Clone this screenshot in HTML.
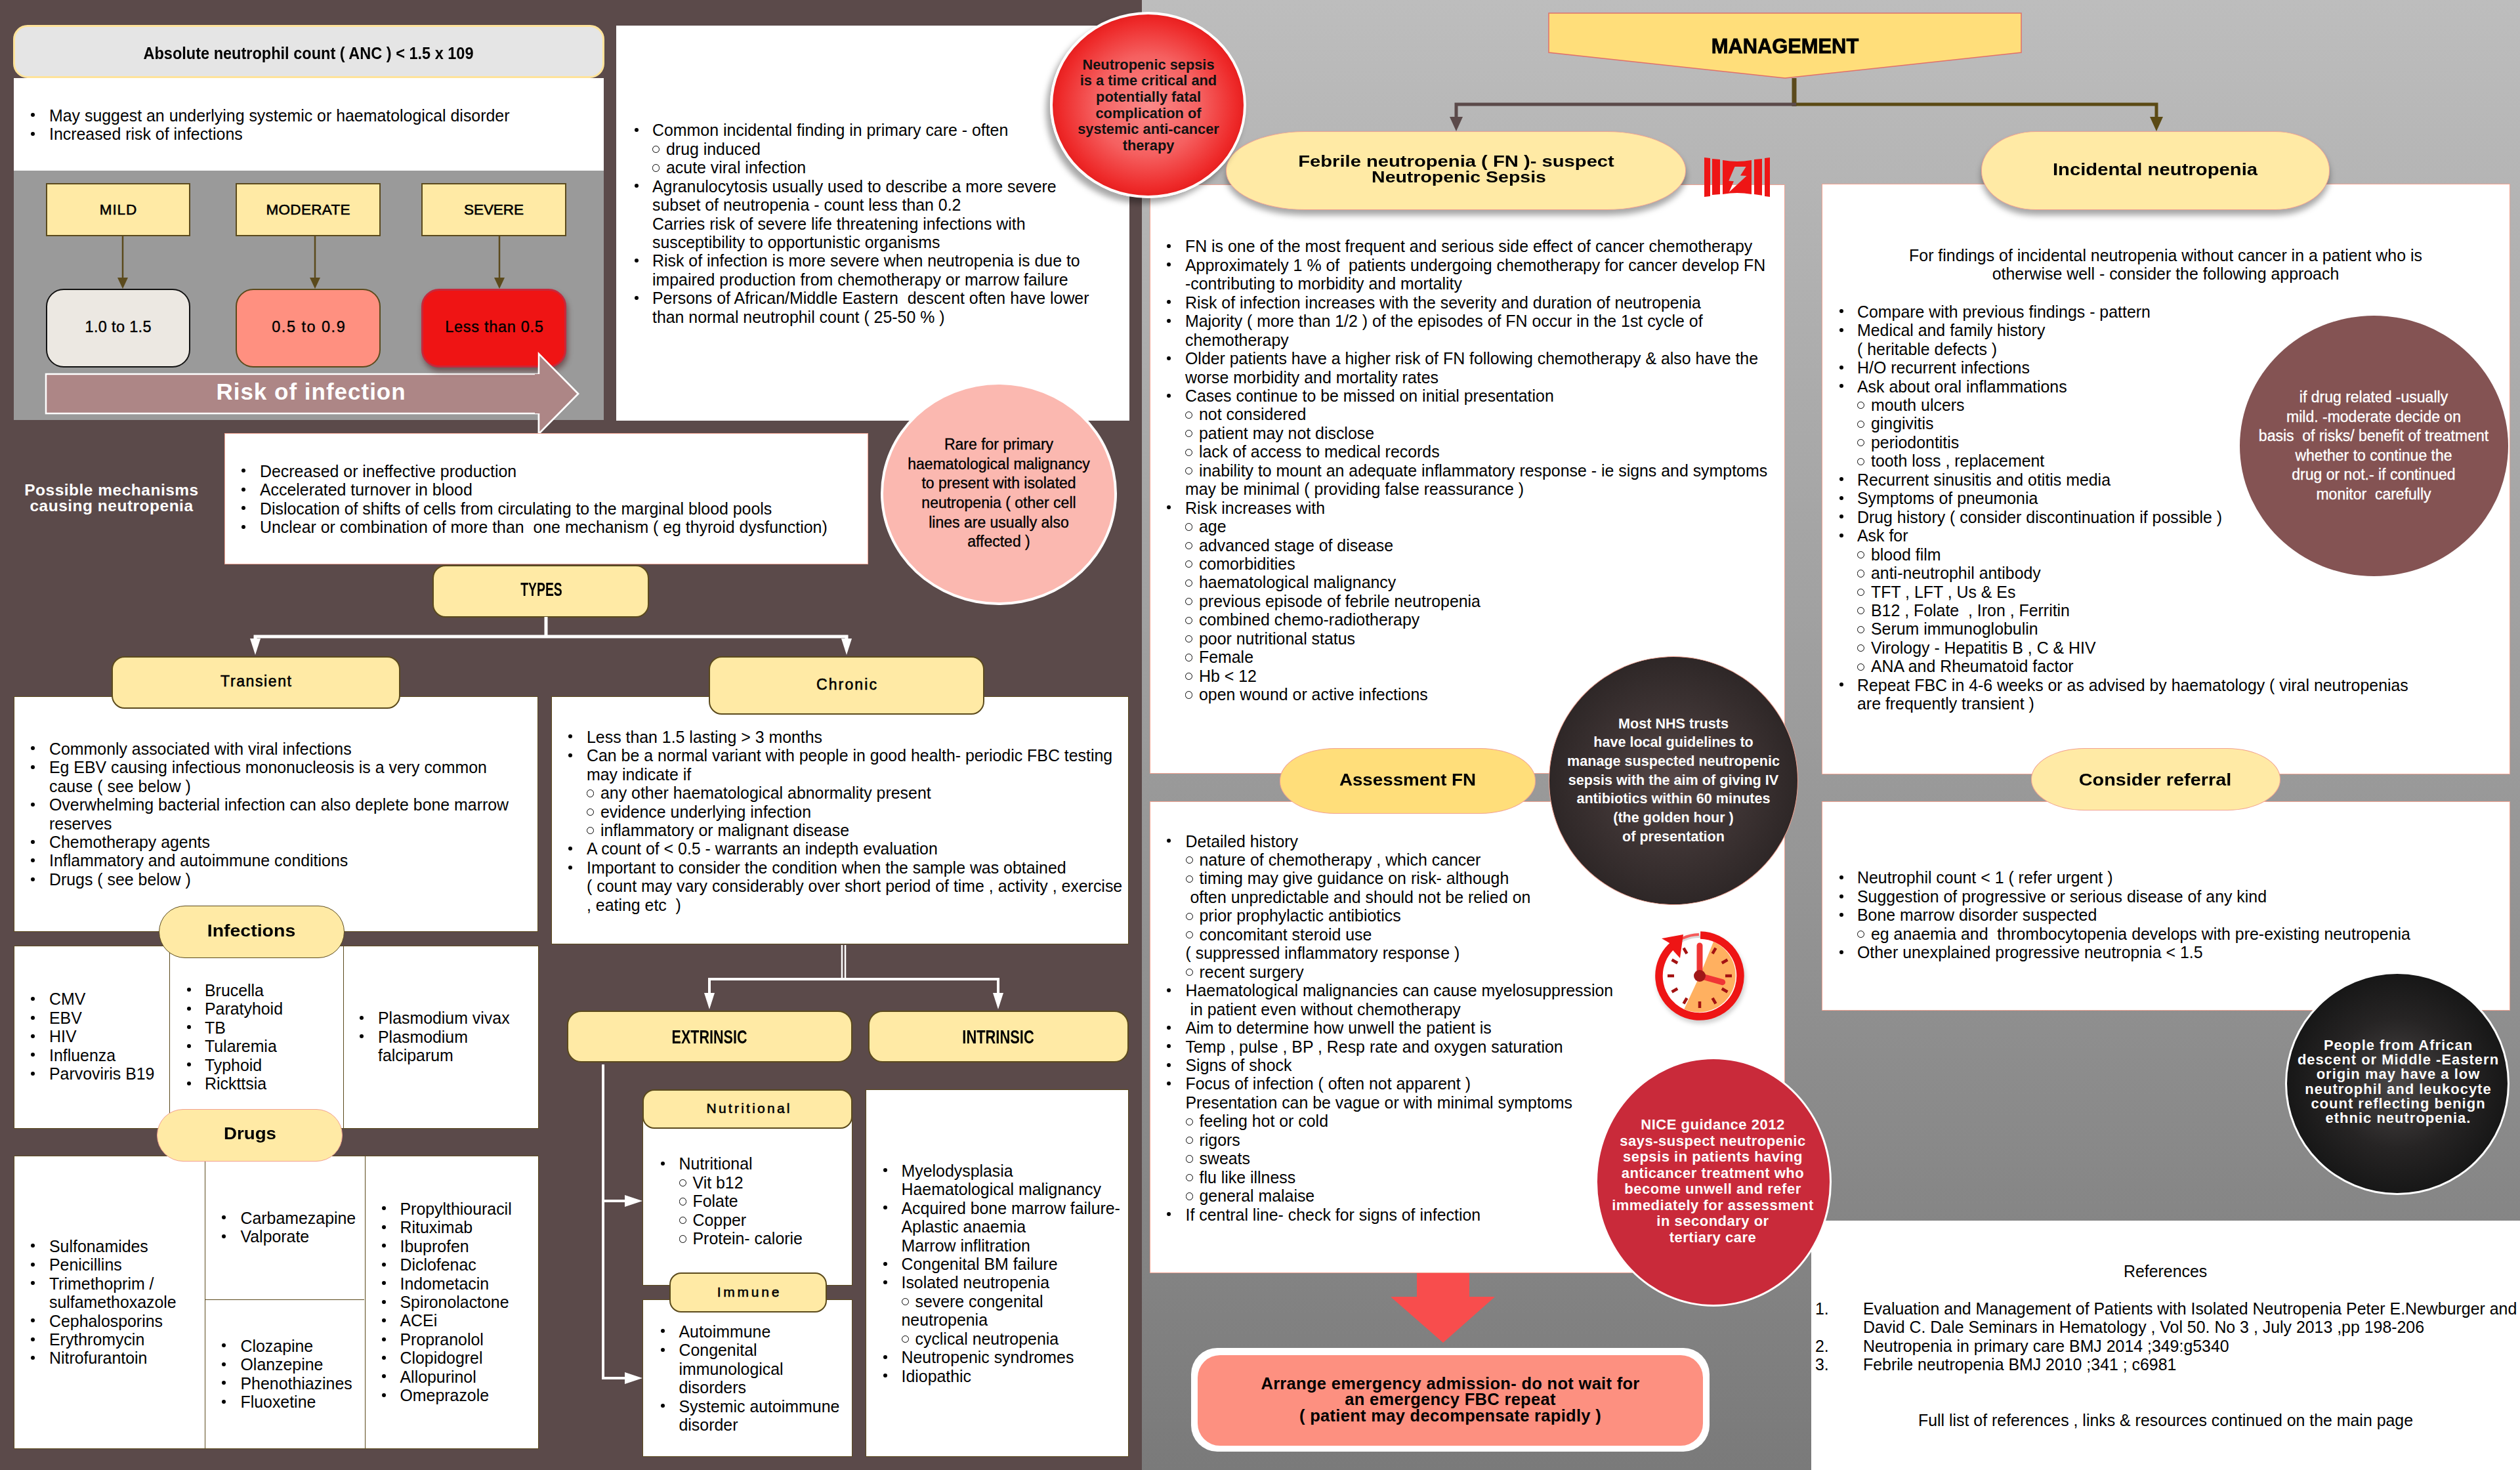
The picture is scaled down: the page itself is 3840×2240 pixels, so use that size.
<!DOCTYPE html>
<html><head><meta charset="utf-8"><style>
html,body{margin:0;padding:0}
body{width:3840px;height:2240px;position:relative;overflow:hidden;font-family:"Liberation Sans",sans-serif;color:#000}
.t{position:absolute;white-space:pre;font-family:"Liberation Sans",sans-serif}
</style></head><body>
<div style="position:absolute;left:0px;top:0px;width:1740px;height:2240px;background:#5b4a4a"></div>
<div style="position:absolute;left:1740px;top:0px;width:2100px;height:2240px;background:linear-gradient(#bdbdbd,#7a7a7a)"></div>
<div style="position:absolute;left:2760px;top:1860px;width:1080px;height:380px;background:#fff"></div>
<div style="position:absolute;left:20px;top:38px;width:895px;height:75px;background:#e5e5e5;border:3px solid #ffe39a;border-radius:22px"></div>
<div style="position:absolute;left:21px;top:119px;width:899px;height:141px;background:#fff"></div>
<div style="position:absolute;left:21px;top:260px;width:899px;height:380px;background:#9a9a9a"></div>
<div class="t" style="left:-530px;width:2000px;text-align:center;top:65.70px;line-height:30.599999999999998px;height:30.599999999999998px;font-size:25.5px;font-weight:bold;transform:scaleX(0.9226);">Absolute neutrophil count ( ANC ) &lt; 1.5 x 109</div>
<div style="position:absolute;left:47.00px;top:172.40px;width:6px;height:6px;border-radius:50%;background:#000"></div>
<div class="t" style="left:75px;top:161.78px;line-height:28.45px;height:28.45px;font-size:24.9px;">May suggest an underlying systemic or haematological disorder</div>
<div style="position:absolute;left:47.00px;top:200.85px;width:6px;height:6px;border-radius:50%;background:#000"></div>
<div class="t" style="left:75px;top:190.22px;line-height:28.45px;height:28.45px;font-size:24.9px;">Increased risk of infections</div>
<div style="position:absolute;left:70px;top:279px;width:216px;height:77px;background:#ffeaa5;border:2px solid #5b4a1c"></div>
<div class="t" style="left:-819.5256510416666px;width:2000px;text-align:center;top:305.50px;line-height:27.0px;height:27.0px;font-size:22.5px;font-weight:normal;letter-spacing:0.949px;-webkit-text-stroke:0.6px #000">MILD</div>
<div style="position:absolute;left:359px;top:279px;width:217px;height:77px;background:#ffeaa5;border:2px solid #5b4a1c"></div>
<div class="t" style="left:-530.3455915178572px;width:2000px;text-align:center;top:305.50px;line-height:27.0px;height:27.0px;font-size:22.5px;font-weight:normal;letter-spacing:0.309px;-webkit-text-stroke:0.6px #000">MODERATE</div>
<div style="position:absolute;left:642px;top:279px;width:217px;height:77px;background:#ffeaa5;border:2px solid #5b4a1c"></div>
<div class="t" style="left:-247.5090234375px;width:2000px;text-align:center;top:305.50px;line-height:27.0px;height:27.0px;font-size:22.5px;font-weight:normal;letter-spacing:-0.018px;-webkit-text-stroke:0.6px #000">SEVERE</div>
<svg style="position:absolute;left:0;top:0" width="1740" height="2240"><line x1="187" y1="360" x2="187" y2="426" stroke="#5b4a1c" stroke-width="2.5"/><polygon points="179,423 195,423 187,440" fill="#5b4a1c"/><line x1="480" y1="360" x2="480" y2="426" stroke="#5b4a1c" stroke-width="2.5"/><polygon points="472,423 488,423 480,440" fill="#5b4a1c"/><line x1="761" y1="360" x2="761" y2="426" stroke="#5b4a1c" stroke-width="2.5"/><polygon points="753,423 769,423 761,440" fill="#5b4a1c"/><polygon points="70,570 821,570 821,539 881,600 821,661 821,630 70,630" fill="#ad8686" stroke="#fff" stroke-width="2.5"/></svg>
<div style="position:absolute;left:70px;top:440px;width:216px;height:116px;background:#ece8e2;border:2px solid #111;border-radius:27px"></div>
<div style="position:absolute;left:359px;top:440px;width:217px;height:116px;background:#ff9080;border:2px solid #5b4a1c;border-radius:27px"></div>
<div style="position:absolute;left:642px;top:440px;width:215px;height:114px;background:#ef1414;border:3px solid #c8283a;border-radius:27px;box-shadow:2px 6px 8px rgba(60,0,0,.45)"></div>
<div class="t" style="left:-819.8324435763889px;width:2000px;text-align:center;top:483.90px;line-height:28.2px;height:28.2px;font-size:23.5px;font-weight:normal;letter-spacing:0.335px;-webkit-text-stroke:0.4px #000">1.0 to 1.5</div>
<div class="t" style="left:-529.2546657986111px;width:2000px;text-align:center;top:483.90px;line-height:28.2px;height:28.2px;font-size:23.5px;font-weight:normal;letter-spacing:1.491px;-webkit-text-stroke:0.4px #000">0.5 to 0.9</div>
<div class="t" style="left:-246.649658203125px;width:2000px;text-align:center;top:483.90px;line-height:28.2px;height:28.2px;font-size:23.5px;font-weight:normal;letter-spacing:0.701px;-webkit-text-stroke:0.4px #000">Less than 0.5</div>
<svg style="position:absolute;left:0;top:0" width="1000" height="700"><polygon points="821,539 881,600 821,661 821,630 815,630 815,570 821,570" fill="#ad8686" stroke="none"/><polyline points="821,570 821,539 881,600 821,661 821,630" fill="none" stroke="#fff" stroke-width="2.5"/></svg>
<div class="t" style="left:-526px;width:2000px;text-align:center;top:582.77px;line-height:28.45px;height:28.45px;font-size:35px;color:#fff;letter-spacing:1px"><b>Risk of infection</b></div>
<div style="position:absolute;left:939px;top:39px;width:782px;height:602px;background:#fff"></div>
<div style="position:absolute;left:967.00px;top:194.90px;width:6px;height:6px;border-radius:50%;background:#000"></div>
<div class="t" style="left:994px;top:184.28px;line-height:28.45px;height:28.45px;font-size:24.9px;">Common incidental finding in primary care - often</div>
<div style="position:absolute;left:994.00px;top:221.90px;width:9.3px;height:9.3px;border-radius:50%;border:1.6px solid #000"></div>
<div class="t" style="left:1015px;top:212.72px;line-height:28.45px;height:28.45px;font-size:24.9px;">drug induced</div>
<div style="position:absolute;left:994.00px;top:250.35px;width:9.3px;height:9.3px;border-radius:50%;border:1.6px solid #000"></div>
<div class="t" style="left:1015px;top:241.17px;line-height:28.45px;height:28.45px;font-size:24.9px;">acute viral infection</div>
<div style="position:absolute;left:967.00px;top:280.25px;width:6px;height:6px;border-radius:50%;background:#000"></div>
<div class="t" style="left:994px;top:269.62px;line-height:28.45px;height:28.45px;font-size:24.9px;">Agranulocytosis usually used to describe a more severe</div>
<div class="t" style="left:994px;top:298.07px;line-height:28.45px;height:28.45px;font-size:24.9px;">subset of neutropenia - count less than 0.2</div>
<div class="t" style="left:994px;top:326.52px;line-height:28.45px;height:28.45px;font-size:24.9px;">Carries risk of severe life threatening infections with</div>
<div class="t" style="left:994px;top:354.97px;line-height:28.45px;height:28.45px;font-size:24.9px;">susceptibility to opportunistic organisms</div>
<div style="position:absolute;left:967.00px;top:394.05px;width:6px;height:6px;border-radius:50%;background:#000"></div>
<div class="t" style="left:994px;top:383.42px;line-height:28.45px;height:28.45px;font-size:24.9px;">Risk of infection is more severe when neutropenia is due to</div>
<div class="t" style="left:994px;top:411.87px;line-height:28.45px;height:28.45px;font-size:24.9px;">impaired production from chemotherapy or marrow failure</div>
<div style="position:absolute;left:967.00px;top:450.95px;width:6px;height:6px;border-radius:50%;background:#000"></div>
<div class="t" style="left:994px;top:440.32px;line-height:28.45px;height:28.45px;font-size:24.9px;">Persons of African/Middle Eastern  descent often have lower</div>
<div class="t" style="left:994px;top:468.77px;line-height:28.45px;height:28.45px;font-size:24.9px;">than normal neutrophil count ( 25-50 % )</div>
<div style="position:absolute;left:342px;top:660px;width:979px;height:198px;background:#fff;border:1px solid #f2a291"></div>
<div class="t" style="left:-830px;width:2000px;text-align:center;top:734.75px;line-height:24.5px;height:24.5px;font-size:24.5px;color:#fff;font-weight:bold;letter-spacing:0.5px">Possible mechanisms</div>
<div class="t" style="left:-830px;width:2000px;text-align:center;top:759.25px;line-height:24.5px;height:24.5px;font-size:24.5px;color:#fff;font-weight:bold;letter-spacing:0.5px">causing neutropenia</div>
<div style="position:absolute;left:368.00px;top:714.40px;width:6px;height:6px;border-radius:50%;background:#000"></div>
<div class="t" style="left:396px;top:703.77px;line-height:28.45px;height:28.45px;font-size:24.9px;">Decreased or ineffective production</div>
<div style="position:absolute;left:368.00px;top:742.85px;width:6px;height:6px;border-radius:50%;background:#000"></div>
<div class="t" style="left:396px;top:732.23px;line-height:28.45px;height:28.45px;font-size:24.9px;">Accelerated turnover in blood</div>
<div style="position:absolute;left:368.00px;top:771.30px;width:6px;height:6px;border-radius:50%;background:#000"></div>
<div class="t" style="left:396px;top:760.68px;line-height:28.45px;height:28.45px;font-size:24.9px;">Dislocation of shifts of cells from circulating to the marginal blood pools</div>
<div style="position:absolute;left:368.00px;top:799.75px;width:6px;height:6px;border-radius:50%;background:#000"></div>
<div class="t" style="left:396px;top:789.13px;line-height:28.45px;height:28.45px;font-size:24.9px;">Unclear or combination of more than  one mechanism ( eg thyroid dysfunction)</div>
<div style="position:absolute;left:1342px;top:582px;width:352px;height:332px;border-radius:50%;background:#fbb8b0;border:4px solid #fff"></div>
<div class="t" style="left:522px;width:2000px;text-align:center;top:663.20px;line-height:29.6px;height:29.6px;font-size:23px;-webkit-text-stroke:0.35px #000">Rare for primary</div>
<div class="t" style="left:522px;width:2000px;text-align:center;top:692.80px;line-height:29.6px;height:29.6px;font-size:23px;-webkit-text-stroke:0.35px #000">haematological malignancy</div>
<div class="t" style="left:522px;width:2000px;text-align:center;top:722.40px;line-height:29.6px;height:29.6px;font-size:23px;-webkit-text-stroke:0.35px #000">to present with isolated</div>
<div class="t" style="left:522px;width:2000px;text-align:center;top:752.00px;line-height:29.6px;height:29.6px;font-size:23px;-webkit-text-stroke:0.35px #000">neutropenia ( other cell</div>
<div class="t" style="left:522px;width:2000px;text-align:center;top:781.60px;line-height:29.6px;height:29.6px;font-size:23px;-webkit-text-stroke:0.35px #000">lines are usually also</div>
<div class="t" style="left:522px;width:2000px;text-align:center;top:811.20px;line-height:29.6px;height:29.6px;font-size:23px;-webkit-text-stroke:0.35px #000">affected )</div>
<div style="position:absolute;left:659px;top:861px;width:326px;height:76px;background:#ffeaa5;border:2px solid #5b4a1c;border-radius:20px"></div>
<div class="t" style="left:-175px;width:2000px;text-align:center;top:880.00px;line-height:36.0px;height:36.0px;font-size:30px;font-weight:bold;transform:scaleX(0.6466);">TYPES</div>
<svg style="position:absolute;left:0;top:0" width="1740" height="2240"><line x1="832" y1="940" x2="832" y2="972" stroke="#fff" stroke-width="5"/><polyline points="389,988 389,970 1290,970 1290,988" fill="none" stroke="#fff" stroke-width="5"/><polygon points="381,973 397,973 389,998" fill="#fff"/><polygon points="1282,973 1298,973 1290,998" fill="#fff"/></svg>
<div style="position:absolute;left:21px;top:1061px;width:797px;height:357px;background:#fff;border:1px solid #5b4a1c"></div>
<div style="position:absolute;left:170px;top:1000px;width:436px;height:76px;background:#ffeaa5;border:2px solid #5b4a1c;border-radius:20px"></div>
<div class="t" style="left:-609.200947265625px;width:2000px;text-align:center;top:1025.20px;line-height:27.599999999999998px;height:27.599999999999998px;font-size:23px;font-weight:normal;letter-spacing:1.598px;-webkit-text-stroke:0.6px #000">Transient</div>
<div style="position:absolute;left:47.00px;top:1137.40px;width:6px;height:6px;border-radius:50%;background:#000"></div>
<div class="t" style="left:75px;top:1126.78px;line-height:28.45px;height:28.45px;font-size:24.9px;">Commonly associated with viral infections</div>
<div style="position:absolute;left:47.00px;top:1165.85px;width:6px;height:6px;border-radius:50%;background:#000"></div>
<div class="t" style="left:75px;top:1155.23px;line-height:28.45px;height:28.45px;font-size:24.9px;">Eg EBV causing infectious mononucleosis is a very common</div>
<div class="t" style="left:75px;top:1183.68px;line-height:28.45px;height:28.45px;font-size:24.9px;">cause ( see below )</div>
<div style="position:absolute;left:47.00px;top:1222.75px;width:6px;height:6px;border-radius:50%;background:#000"></div>
<div class="t" style="left:75px;top:1212.13px;line-height:28.45px;height:28.45px;font-size:24.9px;">Overwhelming bacterial infection can also deplete bone marrow</div>
<div class="t" style="left:75px;top:1240.58px;line-height:28.45px;height:28.45px;font-size:24.9px;">reserves</div>
<div style="position:absolute;left:47.00px;top:1279.65px;width:6px;height:6px;border-radius:50%;background:#000"></div>
<div class="t" style="left:75px;top:1269.03px;line-height:28.45px;height:28.45px;font-size:24.9px;">Chemotherapy agents</div>
<div style="position:absolute;left:47.00px;top:1308.10px;width:6px;height:6px;border-radius:50%;background:#000"></div>
<div class="t" style="left:75px;top:1297.48px;line-height:28.45px;height:28.45px;font-size:24.9px;">Inflammatory and autoimmune conditions</div>
<div style="position:absolute;left:47.00px;top:1336.55px;width:6px;height:6px;border-radius:50%;background:#000"></div>
<div class="t" style="left:75px;top:1325.93px;line-height:28.45px;height:28.45px;font-size:24.9px;">Drugs ( see below )</div>
<div style="position:absolute;left:840px;top:1061px;width:878px;height:376px;background:#fff;border:1px solid #5b4a1c"></div>
<div style="position:absolute;left:1080px;top:1000px;width:416px;height:85px;background:#ffeaa5;border:2px solid #5b4a1c;border-radius:20px"></div>
<div class="t" style="left:291.0792187500001px;width:2000px;text-align:center;top:1030.20px;line-height:27.599999999999998px;height:27.599999999999998px;font-size:23px;font-weight:normal;letter-spacing:2.158px;-webkit-text-stroke:0.6px #000">Chronic</div>
<div style="position:absolute;left:866.00px;top:1119.40px;width:6px;height:6px;border-radius:50%;background:#000"></div>
<div class="t" style="left:894px;top:1108.78px;line-height:28.45px;height:28.45px;font-size:24.9px;">Less than 1.5 lasting &gt; 3 months</div>
<div style="position:absolute;left:866.00px;top:1147.85px;width:6px;height:6px;border-radius:50%;background:#000"></div>
<div class="t" style="left:894px;top:1137.23px;line-height:28.45px;height:28.45px;font-size:24.9px;">Can be a normal variant with people in good health- periodic FBC testing</div>
<div class="t" style="left:894px;top:1165.68px;line-height:28.45px;height:28.45px;font-size:24.9px;">may indicate if</div>
<div style="position:absolute;left:894.00px;top:1203.30px;width:9.3px;height:9.3px;border-radius:50%;border:1.6px solid #000"></div>
<div class="t" style="left:915px;top:1194.13px;line-height:28.45px;height:28.45px;font-size:24.9px;">any other haematological abnormality present</div>
<div style="position:absolute;left:894.00px;top:1231.75px;width:9.3px;height:9.3px;border-radius:50%;border:1.6px solid #000"></div>
<div class="t" style="left:915px;top:1222.58px;line-height:28.45px;height:28.45px;font-size:24.9px;">evidence underlying infection</div>
<div style="position:absolute;left:894.00px;top:1260.20px;width:9.3px;height:9.3px;border-radius:50%;border:1.6px solid #000"></div>
<div class="t" style="left:915px;top:1251.03px;line-height:28.45px;height:28.45px;font-size:24.9px;">inflammatory or malignant disease</div>
<div style="position:absolute;left:866.00px;top:1290.10px;width:6px;height:6px;border-radius:50%;background:#000"></div>
<div class="t" style="left:894px;top:1279.48px;line-height:28.45px;height:28.45px;font-size:24.9px;">A count of &lt; 0.5 - warrants an indepth evaluation</div>
<div style="position:absolute;left:866.00px;top:1318.55px;width:6px;height:6px;border-radius:50%;background:#000"></div>
<div class="t" style="left:894px;top:1307.93px;line-height:28.45px;height:28.45px;font-size:24.9px;">Important to consider the condition when the sample was obtained</div>
<div class="t" style="left:894px;top:1336.38px;line-height:28.45px;height:28.45px;font-size:24.9px;">( count may vary considerably over short period of time , activity , exercise</div>
<div class="t" style="left:894px;top:1364.83px;line-height:28.45px;height:28.45px;font-size:24.9px;">, eating etc  )</div>
<div style="position:absolute;left:21px;top:1441px;width:798px;height:277px;background:#fff;border:1px solid #5b4a1c"></div>
<div style="position:absolute;left:258px;top:1441px;width:264px;height:279px;border-left:1px solid #5b4a1c;border-right:1px solid #5b4a1c"></div>
<div style="position:absolute;left:242px;top:1380px;width:281px;height:78px;border-radius:40px;background:#ffeaa5;border:1px solid #5b4a1c"></div>
<div class="t" style="left:-617px;width:2000px;text-align:center;top:1402.70px;line-height:30.599999999999998px;height:30.599999999999998px;font-size:25.5px;font-weight:bold;transform:scaleX(1.1170);">Infections</div>
<div style="position:absolute;left:46.50px;top:1519.10px;width:6px;height:6px;border-radius:50%;background:#000"></div>
<div class="t" style="left:75px;top:1508.48px;line-height:28.45px;height:28.45px;font-size:24.9px;">CMV</div>
<div style="position:absolute;left:46.50px;top:1547.55px;width:6px;height:6px;border-radius:50%;background:#000"></div>
<div class="t" style="left:75px;top:1536.93px;line-height:28.45px;height:28.45px;font-size:24.9px;">EBV</div>
<div style="position:absolute;left:46.50px;top:1576.00px;width:6px;height:6px;border-radius:50%;background:#000"></div>
<div class="t" style="left:75px;top:1565.38px;line-height:28.45px;height:28.45px;font-size:24.9px;">HIV</div>
<div style="position:absolute;left:46.50px;top:1604.45px;width:6px;height:6px;border-radius:50%;background:#000"></div>
<div class="t" style="left:75px;top:1593.83px;line-height:28.45px;height:28.45px;font-size:24.9px;">Influenza</div>
<div style="position:absolute;left:46.50px;top:1632.90px;width:6px;height:6px;border-radius:50%;background:#000"></div>
<div class="t" style="left:75px;top:1622.28px;line-height:28.45px;height:28.45px;font-size:24.9px;">Parvoviris B19</div>
<div style="position:absolute;left:285.00px;top:1505.40px;width:6px;height:6px;border-radius:50%;background:#000"></div>
<div class="t" style="left:312px;top:1494.78px;line-height:28.45px;height:28.45px;font-size:24.9px;">Brucella</div>
<div style="position:absolute;left:285.00px;top:1533.85px;width:6px;height:6px;border-radius:50%;background:#000"></div>
<div class="t" style="left:312px;top:1523.23px;line-height:28.45px;height:28.45px;font-size:24.9px;">Paratyhoid</div>
<div style="position:absolute;left:285.00px;top:1562.30px;width:6px;height:6px;border-radius:50%;background:#000"></div>
<div class="t" style="left:312px;top:1551.68px;line-height:28.45px;height:28.45px;font-size:24.9px;">TB</div>
<div style="position:absolute;left:285.00px;top:1590.75px;width:6px;height:6px;border-radius:50%;background:#000"></div>
<div class="t" style="left:312px;top:1580.13px;line-height:28.45px;height:28.45px;font-size:24.9px;">Tularemia</div>
<div style="position:absolute;left:285.00px;top:1619.20px;width:6px;height:6px;border-radius:50%;background:#000"></div>
<div class="t" style="left:312px;top:1608.58px;line-height:28.45px;height:28.45px;font-size:24.9px;">Typhoid</div>
<div style="position:absolute;left:285.00px;top:1647.65px;width:6px;height:6px;border-radius:50%;background:#000"></div>
<div class="t" style="left:312px;top:1637.03px;line-height:28.45px;height:28.45px;font-size:24.9px;">Rickttsia</div>
<div style="position:absolute;left:548.00px;top:1548.00px;width:6px;height:6px;border-radius:50%;background:#000"></div>
<div class="t" style="left:576px;top:1537.38px;line-height:28.45px;height:28.45px;font-size:24.9px;">Plasmodium vivax</div>
<div style="position:absolute;left:548.00px;top:1576.45px;width:6px;height:6px;border-radius:50%;background:#000"></div>
<div class="t" style="left:576px;top:1565.83px;line-height:28.45px;height:28.45px;font-size:24.9px;">Plasmodium</div>
<div class="t" style="left:576px;top:1594.28px;line-height:28.45px;height:28.45px;font-size:24.9px;">falciparum</div>
<div style="position:absolute;left:21px;top:1761px;width:798px;height:445px;background:#fff;border:1px solid #5b4a1c"></div>
<div style="position:absolute;left:312px;top:1761px;width:243px;height:447px;border-left:1px solid #5b4a1c;border-right:1px solid #5b4a1c"></div>
<div style="position:absolute;left:312px;top:1980px;width:243px;height:0px;border-top:1px solid #5b4a1c"></div>
<div style="position:absolute;left:239px;top:1690px;width:281px;height:78px;border-radius:40px;background:#ffeaa5;border:1px solid #f2a291"></div>
<div class="t" style="left:-619.5px;width:2000px;text-align:center;top:1712.40px;line-height:31.2px;height:31.2px;font-size:26px;font-weight:bold;transform:scaleX(1.0650);">Drugs</div>
<div style="position:absolute;left:46.50px;top:1895.40px;width:6px;height:6px;border-radius:50%;background:#000"></div>
<div class="t" style="left:75px;top:1884.78px;line-height:28.45px;height:28.45px;font-size:24.9px;">Sulfonamides</div>
<div style="position:absolute;left:46.50px;top:1923.85px;width:6px;height:6px;border-radius:50%;background:#000"></div>
<div class="t" style="left:75px;top:1913.23px;line-height:28.45px;height:28.45px;font-size:24.9px;">Penicillins</div>
<div style="position:absolute;left:46.50px;top:1952.30px;width:6px;height:6px;border-radius:50%;background:#000"></div>
<div class="t" style="left:75px;top:1941.68px;line-height:28.45px;height:28.45px;font-size:24.9px;">Trimethoprim /</div>
<div class="t" style="left:75px;top:1970.13px;line-height:28.45px;height:28.45px;font-size:24.9px;">sulfamethoxazole</div>
<div style="position:absolute;left:46.50px;top:2009.20px;width:6px;height:6px;border-radius:50%;background:#000"></div>
<div class="t" style="left:75px;top:1998.58px;line-height:28.45px;height:28.45px;font-size:24.9px;">Cephalosporins</div>
<div style="position:absolute;left:46.50px;top:2037.65px;width:6px;height:6px;border-radius:50%;background:#000"></div>
<div class="t" style="left:75px;top:2027.03px;line-height:28.45px;height:28.45px;font-size:24.9px;">Erythromycin</div>
<div style="position:absolute;left:46.50px;top:2066.10px;width:6px;height:6px;border-radius:50%;background:#000"></div>
<div class="t" style="left:75px;top:2055.48px;line-height:28.45px;height:28.45px;font-size:24.9px;">Nitrofurantoin</div>
<div style="position:absolute;left:338.00px;top:1852.40px;width:6px;height:6px;border-radius:50%;background:#000"></div>
<div class="t" style="left:366.5px;top:1841.78px;line-height:28.45px;height:28.45px;font-size:24.9px;">Carbamezapine</div>
<div style="position:absolute;left:338.00px;top:1880.85px;width:6px;height:6px;border-radius:50%;background:#000"></div>
<div class="t" style="left:366.5px;top:1870.23px;line-height:28.45px;height:28.45px;font-size:24.9px;">Valporate</div>
<div style="position:absolute;left:338.00px;top:2047.40px;width:6px;height:6px;border-radius:50%;background:#000"></div>
<div class="t" style="left:366.5px;top:2036.78px;line-height:28.45px;height:28.45px;font-size:24.9px;">Clozapine</div>
<div style="position:absolute;left:338.00px;top:2075.85px;width:6px;height:6px;border-radius:50%;background:#000"></div>
<div class="t" style="left:366.5px;top:2065.22px;line-height:28.45px;height:28.45px;font-size:24.9px;">Olanzepine</div>
<div style="position:absolute;left:338.00px;top:2104.30px;width:6px;height:6px;border-radius:50%;background:#000"></div>
<div class="t" style="left:366.5px;top:2093.67px;line-height:28.45px;height:28.45px;font-size:24.9px;">Phenothiazines</div>
<div style="position:absolute;left:338.00px;top:2132.75px;width:6px;height:6px;border-radius:50%;background:#000"></div>
<div class="t" style="left:366.5px;top:2122.12px;line-height:28.45px;height:28.45px;font-size:24.9px;">Fluoxetine</div>
<div style="position:absolute;left:582.00px;top:1838.40px;width:6px;height:6px;border-radius:50%;background:#000"></div>
<div class="t" style="left:609.5px;top:1827.78px;line-height:28.45px;height:28.45px;font-size:24.9px;">Propylthiouracil</div>
<div style="position:absolute;left:582.00px;top:1866.85px;width:6px;height:6px;border-radius:50%;background:#000"></div>
<div class="t" style="left:609.5px;top:1856.23px;line-height:28.45px;height:28.45px;font-size:24.9px;">Rituximab</div>
<div style="position:absolute;left:582.00px;top:1895.30px;width:6px;height:6px;border-radius:50%;background:#000"></div>
<div class="t" style="left:609.5px;top:1884.68px;line-height:28.45px;height:28.45px;font-size:24.9px;">Ibuprofen</div>
<div style="position:absolute;left:582.00px;top:1923.75px;width:6px;height:6px;border-radius:50%;background:#000"></div>
<div class="t" style="left:609.5px;top:1913.13px;line-height:28.45px;height:28.45px;font-size:24.9px;">Diclofenac</div>
<div style="position:absolute;left:582.00px;top:1952.20px;width:6px;height:6px;border-radius:50%;background:#000"></div>
<div class="t" style="left:609.5px;top:1941.58px;line-height:28.45px;height:28.45px;font-size:24.9px;">Indometacin</div>
<div style="position:absolute;left:582.00px;top:1980.65px;width:6px;height:6px;border-radius:50%;background:#000"></div>
<div class="t" style="left:609.5px;top:1970.03px;line-height:28.45px;height:28.45px;font-size:24.9px;">Spironolactone</div>
<div style="position:absolute;left:582.00px;top:2009.10px;width:6px;height:6px;border-radius:50%;background:#000"></div>
<div class="t" style="left:609.5px;top:1998.48px;line-height:28.45px;height:28.45px;font-size:24.9px;">ACEi</div>
<div style="position:absolute;left:582.00px;top:2037.55px;width:6px;height:6px;border-radius:50%;background:#000"></div>
<div class="t" style="left:609.5px;top:2026.93px;line-height:28.45px;height:28.45px;font-size:24.9px;">Propranolol</div>
<div style="position:absolute;left:582.00px;top:2066.00px;width:6px;height:6px;border-radius:50%;background:#000"></div>
<div class="t" style="left:609.5px;top:2055.38px;line-height:28.45px;height:28.45px;font-size:24.9px;">Clopidogrel</div>
<div style="position:absolute;left:582.00px;top:2094.45px;width:6px;height:6px;border-radius:50%;background:#000"></div>
<div class="t" style="left:609.5px;top:2083.83px;line-height:28.45px;height:28.45px;font-size:24.9px;">Allopurinol</div>
<div style="position:absolute;left:582.00px;top:2122.90px;width:6px;height:6px;border-radius:50%;background:#000"></div>
<div class="t" style="left:609.5px;top:2112.28px;line-height:28.45px;height:28.45px;font-size:24.9px;">Omeprazole</div>
<svg style="position:absolute;left:0;top:0" width="1740" height="2240"><line x1="1283" y1="1440" x2="1283" y2="1494" stroke="#fff" stroke-width="2.5"/><line x1="1288" y1="1440" x2="1288" y2="1494" stroke="#fff" stroke-width="2.5"/><polyline points="1081,1525 1081,1492 1521,1492 1521,1525" fill="none" stroke="#fff" stroke-width="4"/><polygon points="1073,1513 1089,1513 1081,1538" fill="#fff"/><polygon points="1513,1513 1529,1513 1521,1538" fill="#fff"/><polyline points="919,1622 919,2100 960,2100" fill="none" stroke="#fff" stroke-width="4"/><line x1="919" y1="1830" x2="960" y2="1830" stroke="#fff" stroke-width="4"/><polygon points="952,1821 952,1839 979,1830" fill="#fff"/><polygon points="952,2091 952,2109 979,2100" fill="#fff"/></svg>
<div style="position:absolute;left:864px;top:1540px;width:431px;height:75px;background:#ffeaa5;border:2px solid #5b4a1c;border-radius:22px"></div>
<div style="position:absolute;left:1323px;top:1540px;width:393px;height:75px;background:#ffeaa5;border:2px solid #5b4a1c;border-radius:22px"></div>
<div class="t" style="left:81px;width:2000px;text-align:center;top:1562.42px;line-height:35.16px;height:35.16px;font-size:29.3px;font-weight:bold;transform:scaleX(0.7358);">EXTRINSIC</div>
<div class="t" style="left:521px;width:2000px;text-align:center;top:1562.42px;line-height:35.16px;height:35.16px;font-size:29.3px;font-weight:bold;transform:scaleX(0.7468);">INTRINSIC</div>
<div style="position:absolute;left:979px;top:1690px;width:318px;height:267px;background:#fff;border:1px solid #5b4a1c"></div>
<div style="position:absolute;left:979px;top:1660px;width:316px;height:56px;background:#ffeaa5;border:2px solid #5b4a1c;border-radius:18px"></div>
<div class="t" style="left:141.6231953125px;width:2000px;text-align:center;top:1676.40px;line-height:25.2px;height:25.2px;font-size:21px;font-weight:normal;letter-spacing:3.246px;-webkit-text-stroke:0.6px #000">Nutritional</div>
<div style="position:absolute;left:1007.00px;top:1770.00px;width:6px;height:6px;border-radius:50%;background:#000"></div>
<div class="t" style="left:1034.5px;top:1759.38px;line-height:28.45px;height:28.45px;font-size:24.9px;">Nutritional</div>
<div style="position:absolute;left:1034.50px;top:1797.00px;width:9.3px;height:9.3px;border-radius:50%;border:1.6px solid #000"></div>
<div class="t" style="left:1055.5px;top:1787.83px;line-height:28.45px;height:28.45px;font-size:24.9px;">Vit b12</div>
<div style="position:absolute;left:1034.50px;top:1825.45px;width:9.3px;height:9.3px;border-radius:50%;border:1.6px solid #000"></div>
<div class="t" style="left:1055.5px;top:1816.28px;line-height:28.45px;height:28.45px;font-size:24.9px;">Folate</div>
<div style="position:absolute;left:1034.50px;top:1853.90px;width:9.3px;height:9.3px;border-radius:50%;border:1.6px solid #000"></div>
<div class="t" style="left:1055.5px;top:1844.73px;line-height:28.45px;height:28.45px;font-size:24.9px;">Copper</div>
<div style="position:absolute;left:1034.50px;top:1882.35px;width:9.3px;height:9.3px;border-radius:50%;border:1.6px solid #000"></div>
<div class="t" style="left:1055.5px;top:1873.18px;line-height:28.45px;height:28.45px;font-size:24.9px;">Protein- calorie</div>
<div style="position:absolute;left:979px;top:1980px;width:318px;height:238px;background:#fff;border:1px solid #5b4a1c"></div>
<div style="position:absolute;left:1020px;top:1939px;width:236px;height:57px;background:#ffeaa5;border:2px solid #5b4a1c;border-radius:18px"></div>
<div class="t" style="left:141.8847343750001px;width:2000px;text-align:center;top:1956.40px;line-height:25.2px;height:25.2px;font-size:21px;font-weight:normal;letter-spacing:3.769px;-webkit-text-stroke:0.6px #000">Immune</div>
<div style="position:absolute;left:1007.00px;top:2025.40px;width:6px;height:6px;border-radius:50%;background:#000"></div>
<div class="t" style="left:1034.5px;top:2014.78px;line-height:28.45px;height:28.45px;font-size:24.9px;">Autoimmune</div>
<div style="position:absolute;left:1007.00px;top:2053.85px;width:6px;height:6px;border-radius:50%;background:#000"></div>
<div class="t" style="left:1034.5px;top:2043.22px;line-height:28.45px;height:28.45px;font-size:24.9px;">Congenital</div>
<div class="t" style="left:1034.5px;top:2071.67px;line-height:28.45px;height:28.45px;font-size:24.9px;">immunological</div>
<div class="t" style="left:1034.5px;top:2100.12px;line-height:28.45px;height:28.45px;font-size:24.9px;">disorders</div>
<div style="position:absolute;left:1007.00px;top:2139.20px;width:6px;height:6px;border-radius:50%;background:#000"></div>
<div class="t" style="left:1034.5px;top:2128.57px;line-height:28.45px;height:28.45px;font-size:24.9px;">Systemic autoimmune</div>
<div class="t" style="left:1034.5px;top:2157.02px;line-height:28.45px;height:28.45px;font-size:24.9px;">disorder</div>
<div style="position:absolute;left:1319px;top:1660px;width:399px;height:558px;background:#fff;border:1px solid #5b4a1c"></div>
<div style="position:absolute;left:1346.00px;top:1780.40px;width:6px;height:6px;border-radius:50%;background:#000"></div>
<div class="t" style="left:1373.5px;top:1769.78px;line-height:28.45px;height:28.45px;font-size:24.9px;">Myelodysplasia</div>
<div class="t" style="left:1373.5px;top:1798.23px;line-height:28.45px;height:28.45px;font-size:24.9px;">Haematological malignancy</div>
<div style="position:absolute;left:1346.00px;top:1837.30px;width:6px;height:6px;border-radius:50%;background:#000"></div>
<div class="t" style="left:1373.5px;top:1826.68px;line-height:28.45px;height:28.45px;font-size:24.9px;">Acquired bone marrow failure-</div>
<div class="t" style="left:1373.5px;top:1855.13px;line-height:28.45px;height:28.45px;font-size:24.9px;">Aplastic anaemia</div>
<div class="t" style="left:1373.5px;top:1883.58px;line-height:28.45px;height:28.45px;font-size:24.9px;">Marrow inflitration</div>
<div style="position:absolute;left:1346.00px;top:1922.65px;width:6px;height:6px;border-radius:50%;background:#000"></div>
<div class="t" style="left:1373.5px;top:1912.03px;line-height:28.45px;height:28.45px;font-size:24.9px;">Congenital BM failure</div>
<div style="position:absolute;left:1346.00px;top:1951.10px;width:6px;height:6px;border-radius:50%;background:#000"></div>
<div class="t" style="left:1373.5px;top:1940.48px;line-height:28.45px;height:28.45px;font-size:24.9px;">Isolated neutropenia</div>
<div style="position:absolute;left:1373.50px;top:1978.10px;width:9.3px;height:9.3px;border-radius:50%;border:1.6px solid #000"></div>
<div class="t" style="left:1394.5px;top:1968.93px;line-height:28.45px;height:28.45px;font-size:24.9px;">severe congenital</div>
<div class="t" style="left:1373.5px;top:1997.38px;line-height:28.45px;height:28.45px;font-size:24.9px;">neutropenia</div>
<div style="position:absolute;left:1373.50px;top:2035.00px;width:9.3px;height:9.3px;border-radius:50%;border:1.6px solid #000"></div>
<div class="t" style="left:1394.5px;top:2025.83px;line-height:28.45px;height:28.45px;font-size:24.9px;">cyclical neutropenia</div>
<div style="position:absolute;left:1346.00px;top:2064.90px;width:6px;height:6px;border-radius:50%;background:#000"></div>
<div class="t" style="left:1373.5px;top:2054.28px;line-height:28.45px;height:28.45px;font-size:24.9px;">Neutropenic syndromes</div>
<div style="position:absolute;left:1346.00px;top:2093.35px;width:6px;height:6px;border-radius:50%;background:#000"></div>
<div class="t" style="left:1373.5px;top:2082.73px;line-height:28.45px;height:28.45px;font-size:24.9px;">Idiopathic</div>
<svg style="position:absolute;left:0;top:0" width="3840" height="2240"><polygon points="2360,20 3080,20 3080,80 2720,119 2360,80" fill="#ffde7a" stroke="#e0706a" stroke-width="1.5"/><line x1="2734" y1="119" x2="2734" y2="162" stroke="#5b4a1c" stroke-width="7"/><polyline points="2219,186 2219,159 2737,159" fill="none" stroke="#5b4a4a" stroke-width="5"/><polyline points="2737,159 3286,159 3286,186" fill="none" stroke="#5b4a14" stroke-width="5"/><polygon points="2209,178 2229,178 2219,200" fill="#5b4a4a"/><polygon points="3276,178 3296,178 3286,200" fill="#5b4a14"/></svg>
<div class="t" style="left:1720px;width:2000px;text-align:center;top:52.10px;line-height:37.8px;height:37.8px;font-size:31.5px;font-weight:bold;transform:scaleX(0.9793);-webkit-text-stroke:0.8px #000">MANAGEMENT</div>
<div style="position:absolute;left:1752px;top:281px;width:966px;height:896px;background:#fff;border:1px solid #f2a291"></div>
<div style="position:absolute;left:1868px;top:200px;width:699px;height:118px;border-radius:120px/59px;background:#ffeaa5;border:1px solid #f2a291;box-shadow:0 8px 10px rgba(0,0,0,.35)"></div>
<div class="t" style="left:1219px;width:2000px;text-align:center;top:231.90px;line-height:28.2px;height:28.2px;font-size:23.5px;font-weight:bold;transform:scaleX(1.2420);">Febrile neutropenia ( FN )- suspect</div>
<div class="t" style="left:1223px;width:2000px;text-align:center;top:255.90px;line-height:28.2px;height:28.2px;font-size:23.5px;font-weight:bold;transform:scaleX(1.2116);">Neutropenic Sepsis</div>
<svg style="position:absolute;left:2585px;top:230px" width="120" height="80" viewBox="0 0 120 80"><path d="M12,10 L21,11 L21,69 L12,70 Z" fill="#ee1515"/><path d="M24,12 L36,13 L36,66 L24,67 Z" fill="#ee1515"/><path fill-rule="evenodd" d="M40,14 Q62,18 84,14 L84,66 Q62,62 40,66 Z M58.5,24 L75.6,24 L67,37.5 L76.5,38 L50,62.6 L56.9,46.3 L49.3,45.4 Z" fill="#ee1515"/><path d="M88,13 L100,12 L100,67.7 L88,66 Z" fill="#ee1515"/><path d="M104,11 L112,10 L112,70 L104,69 Z" fill="#ee1515"/></svg>
<div style="position:absolute;left:1778.00px;top:372.00px;width:6px;height:6px;border-radius:50%;background:#000"></div>
<div class="t" style="left:1806px;top:361.38px;line-height:28.45px;height:28.45px;font-size:24.9px;">FN is one of the most frequent and serious side effect of cancer chemotherapy</div>
<div style="position:absolute;left:1778.00px;top:400.45px;width:6px;height:6px;border-radius:50%;background:#000"></div>
<div class="t" style="left:1806px;top:389.82px;line-height:28.45px;height:28.45px;font-size:24.9px;">Approximately 1 % of  patients undergoing chemotherapy for cancer develop FN</div>
<div class="t" style="left:1806px;top:418.27px;line-height:28.45px;height:28.45px;font-size:24.9px;">-contributing to morbidity and mortality</div>
<div style="position:absolute;left:1778.00px;top:457.35px;width:6px;height:6px;border-radius:50%;background:#000"></div>
<div class="t" style="left:1806px;top:446.72px;line-height:28.45px;height:28.45px;font-size:24.9px;">Risk of infection increases with the severity and duration of neutropenia</div>
<div style="position:absolute;left:1778.00px;top:485.80px;width:6px;height:6px;border-radius:50%;background:#000"></div>
<div class="t" style="left:1806px;top:475.17px;line-height:28.45px;height:28.45px;font-size:24.9px;">Majority ( more than 1/2 ) of the episodes of FN occur in the 1st cycle of</div>
<div class="t" style="left:1806px;top:503.62px;line-height:28.45px;height:28.45px;font-size:24.9px;">chemotherapy</div>
<div style="position:absolute;left:1778.00px;top:542.70px;width:6px;height:6px;border-radius:50%;background:#000"></div>
<div class="t" style="left:1806px;top:532.08px;line-height:28.45px;height:28.45px;font-size:24.9px;">Older patients have a higher risk of FN following chemotherapy &amp; also have the</div>
<div class="t" style="left:1806px;top:560.53px;line-height:28.45px;height:28.45px;font-size:24.9px;">worse morbidity and mortality rates</div>
<div style="position:absolute;left:1778.00px;top:599.60px;width:6px;height:6px;border-radius:50%;background:#000"></div>
<div class="t" style="left:1806px;top:588.98px;line-height:28.45px;height:28.45px;font-size:24.9px;">Cases continue to be missed on initial presentation</div>
<div style="position:absolute;left:1806.00px;top:626.60px;width:9.3px;height:9.3px;border-radius:50%;border:1.6px solid #000"></div>
<div class="t" style="left:1827px;top:617.43px;line-height:28.45px;height:28.45px;font-size:24.9px;">not considered</div>
<div style="position:absolute;left:1806.00px;top:655.05px;width:9.3px;height:9.3px;border-radius:50%;border:1.6px solid #000"></div>
<div class="t" style="left:1827px;top:645.88px;line-height:28.45px;height:28.45px;font-size:24.9px;">patient may not disclose</div>
<div style="position:absolute;left:1806.00px;top:683.50px;width:9.3px;height:9.3px;border-radius:50%;border:1.6px solid #000"></div>
<div class="t" style="left:1827px;top:674.33px;line-height:28.45px;height:28.45px;font-size:24.9px;">lack of access to medical records</div>
<div style="position:absolute;left:1806.00px;top:711.95px;width:9.3px;height:9.3px;border-radius:50%;border:1.6px solid #000"></div>
<div class="t" style="left:1827px;top:702.78px;line-height:28.45px;height:28.45px;font-size:24.9px;">inability to mount an adequate inflammatory response - ie signs and symptoms</div>
<div class="t" style="left:1806px;top:731.23px;line-height:28.45px;height:28.45px;font-size:24.9px;">may be minimal ( providing false reassurance )</div>
<div style="position:absolute;left:1778.00px;top:770.30px;width:6px;height:6px;border-radius:50%;background:#000"></div>
<div class="t" style="left:1806px;top:759.68px;line-height:28.45px;height:28.45px;font-size:24.9px;">Risk increases with</div>
<div style="position:absolute;left:1806.00px;top:797.30px;width:9.3px;height:9.3px;border-radius:50%;border:1.6px solid #000"></div>
<div class="t" style="left:1827px;top:788.13px;line-height:28.45px;height:28.45px;font-size:24.9px;">age</div>
<div style="position:absolute;left:1806.00px;top:825.75px;width:9.3px;height:9.3px;border-radius:50%;border:1.6px solid #000"></div>
<div class="t" style="left:1827px;top:816.58px;line-height:28.45px;height:28.45px;font-size:24.9px;">advanced stage of disease</div>
<div style="position:absolute;left:1806.00px;top:854.20px;width:9.3px;height:9.3px;border-radius:50%;border:1.6px solid #000"></div>
<div class="t" style="left:1827px;top:845.03px;line-height:28.45px;height:28.45px;font-size:24.9px;">comorbidities</div>
<div style="position:absolute;left:1806.00px;top:882.65px;width:9.3px;height:9.3px;border-radius:50%;border:1.6px solid #000"></div>
<div class="t" style="left:1827px;top:873.48px;line-height:28.45px;height:28.45px;font-size:24.9px;">haematological malignancy</div>
<div style="position:absolute;left:1806.00px;top:911.10px;width:9.3px;height:9.3px;border-radius:50%;border:1.6px solid #000"></div>
<div class="t" style="left:1827px;top:901.93px;line-height:28.45px;height:28.45px;font-size:24.9px;">previous episode of febrile neutropenia</div>
<div style="position:absolute;left:1806.00px;top:939.55px;width:9.3px;height:9.3px;border-radius:50%;border:1.6px solid #000"></div>
<div class="t" style="left:1827px;top:930.38px;line-height:28.45px;height:28.45px;font-size:24.9px;">combined chemo-radiotherapy</div>
<div style="position:absolute;left:1806.00px;top:968.00px;width:9.3px;height:9.3px;border-radius:50%;border:1.6px solid #000"></div>
<div class="t" style="left:1827px;top:958.83px;line-height:28.45px;height:28.45px;font-size:24.9px;">poor nutritional status</div>
<div style="position:absolute;left:1806.00px;top:996.45px;width:9.3px;height:9.3px;border-radius:50%;border:1.6px solid #000"></div>
<div class="t" style="left:1827px;top:987.28px;line-height:28.45px;height:28.45px;font-size:24.9px;">Female</div>
<div style="position:absolute;left:1806.00px;top:1024.90px;width:9.3px;height:9.3px;border-radius:50%;border:1.6px solid #000"></div>
<div class="t" style="left:1827px;top:1015.73px;line-height:28.45px;height:28.45px;font-size:24.9px;">Hb &lt; 12</div>
<div style="position:absolute;left:1806.00px;top:1053.35px;width:9.3px;height:9.3px;border-radius:50%;border:1.6px solid #000"></div>
<div class="t" style="left:1827px;top:1044.18px;line-height:28.45px;height:28.45px;font-size:24.9px;">open wound or active infections</div>
<div style="position:absolute;left:2776px;top:280px;width:1047px;height:898px;background:#fff;border:1px solid #f2a291"></div>
<div style="position:absolute;left:3019px;top:200px;width:529px;height:118px;border-radius:83px/59px;background:#ffeaa5;border:1px solid #f2a291;box-shadow:0 8px 10px rgba(0,0,0,.35)"></div>
<div class="t" style="left:2284px;width:2000px;text-align:center;top:242.50px;line-height:30.0px;height:30.0px;font-size:25px;font-weight:bold;transform:scaleX(1.1703);">Incidental neutropenia</div>
<div class="t" style="left:2300px;width:2000px;text-align:center;top:374.77px;line-height:28.45px;height:28.45px;font-size:24.9px;">For findings of incidental neutropenia without cancer in a patient who is</div>
<div class="t" style="left:2300px;width:2000px;text-align:center;top:403.22px;line-height:28.45px;height:28.45px;font-size:24.9px;">otherwise well - consider the following approach</div>
<div style="position:absolute;left:2802.50px;top:471.40px;width:6px;height:6px;border-radius:50%;background:#000"></div>
<div class="t" style="left:2830px;top:460.77px;line-height:28.45px;height:28.45px;font-size:24.9px;">Compare with previous findings - pattern</div>
<div style="position:absolute;left:2802.50px;top:499.85px;width:6px;height:6px;border-radius:50%;background:#000"></div>
<div class="t" style="left:2830px;top:489.22px;line-height:28.45px;height:28.45px;font-size:24.9px;">Medical and family history</div>
<div class="t" style="left:2830px;top:517.67px;line-height:28.45px;height:28.45px;font-size:24.9px;">( heritable defects )</div>
<div style="position:absolute;left:2802.50px;top:556.75px;width:6px;height:6px;border-radius:50%;background:#000"></div>
<div class="t" style="left:2830px;top:546.12px;line-height:28.45px;height:28.45px;font-size:24.9px;">H/O recurrent infections</div>
<div style="position:absolute;left:2802.50px;top:585.20px;width:6px;height:6px;border-radius:50%;background:#000"></div>
<div class="t" style="left:2830px;top:574.58px;line-height:28.45px;height:28.45px;font-size:24.9px;">Ask about oral inflammations</div>
<div style="position:absolute;left:2830.00px;top:612.20px;width:9.3px;height:9.3px;border-radius:50%;border:1.6px solid #000"></div>
<div class="t" style="left:2851px;top:603.03px;line-height:28.45px;height:28.45px;font-size:24.9px;">mouth ulcers</div>
<div style="position:absolute;left:2830.00px;top:640.65px;width:9.3px;height:9.3px;border-radius:50%;border:1.6px solid #000"></div>
<div class="t" style="left:2851px;top:631.48px;line-height:28.45px;height:28.45px;font-size:24.9px;">gingivitis</div>
<div style="position:absolute;left:2830.00px;top:669.10px;width:9.3px;height:9.3px;border-radius:50%;border:1.6px solid #000"></div>
<div class="t" style="left:2851px;top:659.93px;line-height:28.45px;height:28.45px;font-size:24.9px;">periodontitis</div>
<div style="position:absolute;left:2830.00px;top:697.55px;width:9.3px;height:9.3px;border-radius:50%;border:1.6px solid #000"></div>
<div class="t" style="left:2851px;top:688.38px;line-height:28.45px;height:28.45px;font-size:24.9px;">tooth loss , replacement</div>
<div style="position:absolute;left:2802.50px;top:727.45px;width:6px;height:6px;border-radius:50%;background:#000"></div>
<div class="t" style="left:2830px;top:716.83px;line-height:28.45px;height:28.45px;font-size:24.9px;">Recurrent sinusitis and otitis media</div>
<div style="position:absolute;left:2802.50px;top:755.90px;width:6px;height:6px;border-radius:50%;background:#000"></div>
<div class="t" style="left:2830px;top:745.28px;line-height:28.45px;height:28.45px;font-size:24.9px;">Symptoms of pneumonia</div>
<div style="position:absolute;left:2802.50px;top:784.35px;width:6px;height:6px;border-radius:50%;background:#000"></div>
<div class="t" style="left:2830px;top:773.73px;line-height:28.45px;height:28.45px;font-size:24.9px;">Drug history ( consider discontinuation if possible )</div>
<div style="position:absolute;left:2802.50px;top:812.80px;width:6px;height:6px;border-radius:50%;background:#000"></div>
<div class="t" style="left:2830px;top:802.18px;line-height:28.45px;height:28.45px;font-size:24.9px;">Ask for</div>
<div style="position:absolute;left:2830.00px;top:839.80px;width:9.3px;height:9.3px;border-radius:50%;border:1.6px solid #000"></div>
<div class="t" style="left:2851px;top:830.63px;line-height:28.45px;height:28.45px;font-size:24.9px;">blood film</div>
<div style="position:absolute;left:2830.00px;top:868.25px;width:9.3px;height:9.3px;border-radius:50%;border:1.6px solid #000"></div>
<div class="t" style="left:2851px;top:859.08px;line-height:28.45px;height:28.45px;font-size:24.9px;">anti-neutrophil antibody</div>
<div style="position:absolute;left:2830.00px;top:896.70px;width:9.3px;height:9.3px;border-radius:50%;border:1.6px solid #000"></div>
<div class="t" style="left:2851px;top:887.53px;line-height:28.45px;height:28.45px;font-size:24.9px;">TFT , LFT , Us &amp; Es</div>
<div style="position:absolute;left:2830.00px;top:925.15px;width:9.3px;height:9.3px;border-radius:50%;border:1.6px solid #000"></div>
<div class="t" style="left:2851px;top:915.98px;line-height:28.45px;height:28.45px;font-size:24.9px;">B12 , Folate  , Iron , Ferritin</div>
<div style="position:absolute;left:2830.00px;top:953.60px;width:9.3px;height:9.3px;border-radius:50%;border:1.6px solid #000"></div>
<div class="t" style="left:2851px;top:944.43px;line-height:28.45px;height:28.45px;font-size:24.9px;">Serum immunoglobulin</div>
<div style="position:absolute;left:2830.00px;top:982.05px;width:9.3px;height:9.3px;border-radius:50%;border:1.6px solid #000"></div>
<div class="t" style="left:2851px;top:972.88px;line-height:28.45px;height:28.45px;font-size:24.9px;">Virology - Hepatitis B , C &amp; HIV</div>
<div style="position:absolute;left:2830.00px;top:1010.50px;width:9.3px;height:9.3px;border-radius:50%;border:1.6px solid #000"></div>
<div class="t" style="left:2851px;top:1001.33px;line-height:28.45px;height:28.45px;font-size:24.9px;">ANA and Rheumatoid factor</div>
<div style="position:absolute;left:2802.50px;top:1040.40px;width:6px;height:6px;border-radius:50%;background:#000"></div>
<div class="t" style="left:2830px;top:1029.78px;line-height:28.45px;height:28.45px;font-size:24.9px;">Repeat FBC in 4-6 weeks or as advised by haematology ( viral neutropenias</div>
<div class="t" style="left:2830px;top:1058.23px;line-height:28.45px;height:28.45px;font-size:24.9px;">are frequently transient )</div>
<div style="position:absolute;left:3413px;top:481px;width:409px;height:397px;border-radius:50%;background:#845353"></div>
<div class="t" style="left:2617px;width:2000px;text-align:center;top:591.00px;line-height:29.6px;height:29.6px;font-size:23px;color:#fff;-webkit-text-stroke:0.35px #fff">if drug related -usually</div>
<div class="t" style="left:2617px;width:2000px;text-align:center;top:620.60px;line-height:29.6px;height:29.6px;font-size:23px;color:#fff;-webkit-text-stroke:0.35px #fff">mild. -moderate decide on</div>
<div class="t" style="left:2617px;width:2000px;text-align:center;top:650.20px;line-height:29.6px;height:29.6px;font-size:23px;color:#fff;-webkit-text-stroke:0.35px #fff">basis  of risks/ benefit of treatment</div>
<div class="t" style="left:2617px;width:2000px;text-align:center;top:679.80px;line-height:29.6px;height:29.6px;font-size:23px;color:#fff;-webkit-text-stroke:0.35px #fff">whether to continue the</div>
<div class="t" style="left:2617px;width:2000px;text-align:center;top:709.40px;line-height:29.6px;height:29.6px;font-size:23px;color:#fff;-webkit-text-stroke:0.35px #fff">drug or not.- if continued</div>
<div class="t" style="left:2617px;width:2000px;text-align:center;top:739.00px;line-height:29.6px;height:29.6px;font-size:23px;color:#fff;-webkit-text-stroke:0.35px #fff">monitor  carefully</div>
<div style="position:absolute;left:1752px;top:1221px;width:966px;height:717px;background:#fff;border:1px solid #f2a291"></div>
<div style="position:absolute;left:1950px;top:1140px;width:388px;height:98px;border-radius:84px/49px;background:#ffde7a;border:1px solid #f2a291"></div>
<div class="t" style="left:1145px;width:2000px;text-align:center;top:1172.50px;line-height:30.0px;height:30.0px;font-size:25px;font-weight:bold;transform:scaleX(1.1100);">Assessment FN</div>
<div style="position:absolute;left:1778.00px;top:1278.20px;width:6px;height:6px;border-radius:50%;background:#000"></div>
<div class="t" style="left:1806.5px;top:1267.58px;line-height:28.45px;height:28.45px;font-size:24.9px;">Detailed history</div>
<div style="position:absolute;left:1806.50px;top:1305.20px;width:9.3px;height:9.3px;border-radius:50%;border:1.6px solid #000"></div>
<div class="t" style="left:1827.5px;top:1296.03px;line-height:28.45px;height:28.45px;font-size:24.9px;">nature of chemotherapy , which cancer</div>
<div style="position:absolute;left:1806.50px;top:1333.65px;width:9.3px;height:9.3px;border-radius:50%;border:1.6px solid #000"></div>
<div class="t" style="left:1827.5px;top:1324.48px;line-height:28.45px;height:28.45px;font-size:24.9px;">timing may give guidance on risk- although</div>
<div class="t" style="left:1806.5px;top:1352.93px;line-height:28.45px;height:28.45px;font-size:24.9px;"> often unpredictable and should not be relied on</div>
<div style="position:absolute;left:1806.50px;top:1390.55px;width:9.3px;height:9.3px;border-radius:50%;border:1.6px solid #000"></div>
<div class="t" style="left:1827.5px;top:1381.38px;line-height:28.45px;height:28.45px;font-size:24.9px;">prior prophylactic antibiotics</div>
<div style="position:absolute;left:1806.50px;top:1419.00px;width:9.3px;height:9.3px;border-radius:50%;border:1.6px solid #000"></div>
<div class="t" style="left:1827.5px;top:1409.83px;line-height:28.45px;height:28.45px;font-size:24.9px;">concomitant steroid use</div>
<div class="t" style="left:1806.5px;top:1438.28px;line-height:28.45px;height:28.45px;font-size:24.9px;">( suppressed inflammatory response )</div>
<div style="position:absolute;left:1806.50px;top:1475.90px;width:9.3px;height:9.3px;border-radius:50%;border:1.6px solid #000"></div>
<div class="t" style="left:1827.5px;top:1466.73px;line-height:28.45px;height:28.45px;font-size:24.9px;">recent surgery</div>
<div style="position:absolute;left:1778.00px;top:1505.80px;width:6px;height:6px;border-radius:50%;background:#000"></div>
<div class="t" style="left:1806.5px;top:1495.18px;line-height:28.45px;height:28.45px;font-size:24.9px;">Haematological malignancies can cause myelosuppression</div>
<div class="t" style="left:1806.5px;top:1523.63px;line-height:28.45px;height:28.45px;font-size:24.9px;"> in patient even without chemotherapy</div>
<div style="position:absolute;left:1778.00px;top:1562.70px;width:6px;height:6px;border-radius:50%;background:#000"></div>
<div class="t" style="left:1806.5px;top:1552.08px;line-height:28.45px;height:28.45px;font-size:24.9px;">Aim to determine how unwell the patient is</div>
<div style="position:absolute;left:1778.00px;top:1591.15px;width:6px;height:6px;border-radius:50%;background:#000"></div>
<div class="t" style="left:1806.5px;top:1580.53px;line-height:28.45px;height:28.45px;font-size:24.9px;">Temp , pulse , BP , Resp rate and oxygen saturation</div>
<div style="position:absolute;left:1778.00px;top:1619.60px;width:6px;height:6px;border-radius:50%;background:#000"></div>
<div class="t" style="left:1806.5px;top:1608.98px;line-height:28.45px;height:28.45px;font-size:24.9px;">Signs of shock</div>
<div style="position:absolute;left:1778.00px;top:1648.05px;width:6px;height:6px;border-radius:50%;background:#000"></div>
<div class="t" style="left:1806.5px;top:1637.43px;line-height:28.45px;height:28.45px;font-size:24.9px;">Focus of infection ( often not apparent )</div>
<div class="t" style="left:1806.5px;top:1665.88px;line-height:28.45px;height:28.45px;font-size:24.9px;">Presentation can be vague or with minimal symptoms</div>
<div style="position:absolute;left:1806.50px;top:1703.50px;width:9.3px;height:9.3px;border-radius:50%;border:1.6px solid #000"></div>
<div class="t" style="left:1827.5px;top:1694.33px;line-height:28.45px;height:28.45px;font-size:24.9px;">feeling hot or cold</div>
<div style="position:absolute;left:1806.50px;top:1731.95px;width:9.3px;height:9.3px;border-radius:50%;border:1.6px solid #000"></div>
<div class="t" style="left:1827.5px;top:1722.78px;line-height:28.45px;height:28.45px;font-size:24.9px;">rigors</div>
<div style="position:absolute;left:1806.50px;top:1760.40px;width:9.3px;height:9.3px;border-radius:50%;border:1.6px solid #000"></div>
<div class="t" style="left:1827.5px;top:1751.23px;line-height:28.45px;height:28.45px;font-size:24.9px;">sweats</div>
<div style="position:absolute;left:1806.50px;top:1788.85px;width:9.3px;height:9.3px;border-radius:50%;border:1.6px solid #000"></div>
<div class="t" style="left:1827.5px;top:1779.68px;line-height:28.45px;height:28.45px;font-size:24.9px;">flu like illness</div>
<div style="position:absolute;left:1806.50px;top:1817.30px;width:9.3px;height:9.3px;border-radius:50%;border:1.6px solid #000"></div>
<div class="t" style="left:1827.5px;top:1808.13px;line-height:28.45px;height:28.45px;font-size:24.9px;">general malaise</div>
<div style="position:absolute;left:1778.00px;top:1847.20px;width:6px;height:6px;border-radius:50%;background:#000"></div>
<div class="t" style="left:1806.5px;top:1836.58px;line-height:28.45px;height:28.45px;font-size:24.9px;">If central line- check for signs of infection</div>
<div style="position:absolute;left:2360px;top:1000px;width:378px;height:377px;border-radius:50%;background:radial-gradient(closest-side,#584848,#3e3434 55%,#2e2727);border:1px solid #f2a291"></div>
<div class="t" style="left:1550px;width:2000px;text-align:center;top:1088.65px;line-height:28.7px;height:28.7px;font-size:21.6px;color:#fff;font-weight:bold">Most NHS trusts</div>
<div class="t" style="left:1550px;width:2000px;text-align:center;top:1117.35px;line-height:28.7px;height:28.7px;font-size:21.6px;color:#fff;font-weight:bold">have local guidelines to</div>
<div class="t" style="left:1550px;width:2000px;text-align:center;top:1146.05px;line-height:28.7px;height:28.7px;font-size:21.6px;color:#fff;font-weight:bold">manage suspected neutropenic</div>
<div class="t" style="left:1550px;width:2000px;text-align:center;top:1174.75px;line-height:28.7px;height:28.7px;font-size:21.6px;color:#fff;font-weight:bold">sepsis with the aim of giving IV</div>
<div class="t" style="left:1550px;width:2000px;text-align:center;top:1203.45px;line-height:28.7px;height:28.7px;font-size:21.6px;color:#fff;font-weight:bold">antibiotics within 60 minutes</div>
<div class="t" style="left:1550px;width:2000px;text-align:center;top:1232.15px;line-height:28.7px;height:28.7px;font-size:21.6px;color:#fff;font-weight:bold">(the golden hour )</div>
<div class="t" style="left:1550px;width:2000px;text-align:center;top:1260.85px;line-height:28.7px;height:28.7px;font-size:21.6px;color:#fff;font-weight:bold">of presentation</div>
<svg style="position:absolute;left:2510px;top:1407px" width="160" height="160" viewBox="-80 -80 160 160"><defs><filter id="cb" x="-50%" y="-50%" width="200%" height="200%"><feGaussianBlur stdDeviation="3"/></filter></defs><circle cx="2" cy="5" r="68" fill="rgba(0,0,0,.18)" filter="url(#cb)"/><circle cx="0" cy="0" r="58" fill="#fff"/><path d="M0,0 L21,-52 A56,56 0 1,1 -23.7,50.8 Z" fill="#ffb060"/><line x1="19.5" y1="-33.8" x2="24.5" y2="-42.4" stroke="#a31212" stroke-width="4.5"/><line x1="33.8" y1="-19.5" x2="42.4" y2="-24.5" stroke="#a31212" stroke-width="4.5"/><line x1="39.0" y1="-0.0" x2="49.0" y2="-0.0" stroke="#a31212" stroke-width="4.5"/><line x1="33.8" y1="19.5" x2="42.4" y2="24.5" stroke="#a31212" stroke-width="4.5"/><line x1="19.5" y1="33.8" x2="24.5" y2="42.4" stroke="#a31212" stroke-width="4.5"/><line x1="0.0" y1="39.0" x2="0.0" y2="49.0" stroke="#a31212" stroke-width="4.5"/><line x1="-19.5" y1="33.8" x2="-24.5" y2="42.4" stroke="#a31212" stroke-width="4.5"/><line x1="-33.8" y1="19.5" x2="-42.4" y2="24.5" stroke="#a31212" stroke-width="4.5"/><line x1="-39.0" y1="0.0" x2="-49.0" y2="0.0" stroke="#a31212" stroke-width="4.5"/><line x1="-33.8" y1="-19.5" x2="-42.4" y2="-24.5" stroke="#a31212" stroke-width="4.5"/><line x1="-19.5" y1="-33.8" x2="-24.5" y2="-42.4" stroke="#a31212" stroke-width="4.5"/><path d="M1.1,-62 A62,62 0 1,1 -41.5,-46.1" fill="none" stroke="#ee1515" stroke-width="11.5"/><path d="M-26.6,-57 A63,63 0 0,1 -1.1,-63" fill="none" stroke="#f55a5a" stroke-width="4"/><polygon points="-58,-57 -25,-63 -30,-27 -40,-38 -46,-50" fill="#ee1515"/><line x1="0" y1="0" x2="0" y2="-46" stroke="#f03535" stroke-width="9" stroke-linecap="round"/><line x1="0" y1="0" x2="34.7" y2="9.7" stroke="#f03535" stroke-width="9" stroke-linecap="round"/><circle cx="0" cy="0" r="9" fill="#a01818"/></svg>
<svg style="position:absolute;left:0;top:0" width="3840" height="2240"><polygon points="2159,1940 2239,1940 2239,1976 2278,1976 2199,2046 2119,1976 2159,1976" fill="#f84d4d"/></svg>
<div style="position:absolute;left:1815px;top:2054px;width:790px;height:158px;background:#fff;border-radius:40px"></div>
<div style="position:absolute;left:1825px;top:2065px;width:770px;height:138px;background:#fd9080;border-radius:34px"></div>
<div class="t" style="left:1210px;width:2000px;text-align:center;top:2095.60px;line-height:24.8px;height:24.8px;font-size:25.5px;font-weight:bold;letter-spacing:0.3px">Arrange emergency admission- do not wait for</div>
<div class="t" style="left:1210px;width:2000px;text-align:center;top:2120.40px;line-height:24.8px;height:24.8px;font-size:25.5px;font-weight:bold;letter-spacing:0.3px">an emergency FBC repeat</div>
<div class="t" style="left:1210px;width:2000px;text-align:center;top:2145.20px;line-height:24.8px;height:24.8px;font-size:25.5px;font-weight:bold;letter-spacing:0.3px">( patient may decompensate rapidly )</div>
<div style="position:absolute;left:2431px;top:1611px;width:354px;height:374px;border-radius:50%;background:#c92a3a;border:3px solid #fff"></div>
<div class="t" style="left:1610px;width:2000px;text-align:center;top:1702.25px;line-height:24.5px;height:24.5px;font-size:22px;color:#fff;font-weight:bold;letter-spacing:0.5px">NICE guidance 2012</div>
<div class="t" style="left:1610px;width:2000px;text-align:center;top:1726.75px;line-height:24.5px;height:24.5px;font-size:22px;color:#fff;font-weight:bold;letter-spacing:0.5px">says-suspect neutropenic</div>
<div class="t" style="left:1610px;width:2000px;text-align:center;top:1751.25px;line-height:24.5px;height:24.5px;font-size:22px;color:#fff;font-weight:bold;letter-spacing:0.5px">sepsis in patients having</div>
<div class="t" style="left:1610px;width:2000px;text-align:center;top:1775.75px;line-height:24.5px;height:24.5px;font-size:22px;color:#fff;font-weight:bold;letter-spacing:0.5px">anticancer treatment who</div>
<div class="t" style="left:1610px;width:2000px;text-align:center;top:1800.25px;line-height:24.5px;height:24.5px;font-size:22px;color:#fff;font-weight:bold;letter-spacing:0.5px">become unwell and refer</div>
<div class="t" style="left:1610px;width:2000px;text-align:center;top:1824.75px;line-height:24.5px;height:24.5px;font-size:22px;color:#fff;font-weight:bold;letter-spacing:0.5px">immediately for assessment</div>
<div class="t" style="left:1610px;width:2000px;text-align:center;top:1849.25px;line-height:24.5px;height:24.5px;font-size:22px;color:#fff;font-weight:bold;letter-spacing:0.5px">in secondary or</div>
<div class="t" style="left:1610px;width:2000px;text-align:center;top:1873.75px;line-height:24.5px;height:24.5px;font-size:22px;color:#fff;font-weight:bold;letter-spacing:0.5px">tertiary care</div>
<div style="position:absolute;left:2776px;top:1221px;width:1047px;height:317px;background:#fff;border:1px solid #f2a291"></div>
<div style="position:absolute;left:3095px;top:1140px;width:378px;height:93px;border-radius:81px/47px;background:#ffeaa5;border:1px solid #f2a291"></div>
<div class="t" style="left:2284px;width:2000px;text-align:center;top:1173.00px;line-height:30.0px;height:30.0px;font-size:25px;font-weight:bold;transform:scaleX(1.1546);">Consider referral</div>
<div style="position:absolute;left:2802.50px;top:1334.10px;width:6px;height:6px;border-radius:50%;background:#000"></div>
<div class="t" style="left:2830px;top:1323.48px;line-height:28.45px;height:28.45px;font-size:24.9px;">Neutrophil count &lt; 1 ( refer urgent )</div>
<div style="position:absolute;left:2802.50px;top:1362.55px;width:6px;height:6px;border-radius:50%;background:#000"></div>
<div class="t" style="left:2830px;top:1351.93px;line-height:28.45px;height:28.45px;font-size:24.9px;">Suggestion of progressive or serious disease of any kind</div>
<div style="position:absolute;left:2802.50px;top:1391.00px;width:6px;height:6px;border-radius:50%;background:#000"></div>
<div class="t" style="left:2830px;top:1380.38px;line-height:28.45px;height:28.45px;font-size:24.9px;">Bone marrow disorder suspected</div>
<div style="position:absolute;left:2830.00px;top:1418.00px;width:9.3px;height:9.3px;border-radius:50%;border:1.6px solid #000"></div>
<div class="t" style="left:2851px;top:1408.83px;line-height:28.45px;height:28.45px;font-size:24.9px;">eg anaemia and  thrombocytopenia develops with pre-existing neutropenia</div>
<div style="position:absolute;left:2802.50px;top:1447.90px;width:6px;height:6px;border-radius:50%;background:#000"></div>
<div class="t" style="left:2830px;top:1437.28px;line-height:28.45px;height:28.45px;font-size:24.9px;">Other unexplained progressive neutropnia &lt; 1.5</div>
<div style="position:absolute;left:3482px;top:1481px;width:336px;height:334px;border-radius:50%;background:radial-gradient(closest-side,#4a4646,#262424 60%,#171717);border:3px solid #fff"></div>
<div class="t" style="left:2654.5px;width:2000px;text-align:center;top:1581.90px;line-height:22.2px;height:22.2px;font-size:22px;color:#fff;font-weight:bold;letter-spacing:1px">People from African</div>
<div class="t" style="left:2654.5px;width:2000px;text-align:center;top:1604.10px;line-height:22.2px;height:22.2px;font-size:22px;color:#fff;font-weight:bold;letter-spacing:1px">descent or Middle -Eastern</div>
<div class="t" style="left:2654.5px;width:2000px;text-align:center;top:1626.30px;line-height:22.2px;height:22.2px;font-size:22px;color:#fff;font-weight:bold;letter-spacing:1px">origin may have a low</div>
<div class="t" style="left:2654.5px;width:2000px;text-align:center;top:1648.50px;line-height:22.2px;height:22.2px;font-size:22px;color:#fff;font-weight:bold;letter-spacing:1px">neutrophil and leukocyte</div>
<div class="t" style="left:2654.5px;width:2000px;text-align:center;top:1670.70px;line-height:22.2px;height:22.2px;font-size:22px;color:#fff;font-weight:bold;letter-spacing:1px">count reflecting benign</div>
<div class="t" style="left:2654.5px;width:2000px;text-align:center;top:1692.90px;line-height:22.2px;height:22.2px;font-size:22px;color:#fff;font-weight:bold;letter-spacing:1px">ethnic neutropenia.</div>
<div class="t" style="left:2299.6px;width:2000px;text-align:center;top:1923.28px;line-height:28.45px;height:28.45px;font-size:24.9px;">References</div>
<div class="t" style="left:2766px;top:1979.78px;line-height:28.45px;height:28.45px;font-size:24.9px;">1.</div>
<div class="t" style="left:2839px;top:1979.78px;line-height:28.45px;height:28.45px;font-size:24.9px;">Evaluation and Management of Patients with Isolated Neutropenia Peter E.Newburger and</div>
<div class="t" style="left:2839px;top:2008.38px;line-height:28.45px;height:28.45px;font-size:24.9px;">David C. Dale Seminars in Hematology , Vol 50. No 3 , July 2013 ,pp 198-206</div>
<div class="t" style="left:2766px;top:2036.78px;line-height:28.45px;height:28.45px;font-size:24.9px;">2.</div>
<div class="t" style="left:2839px;top:2036.78px;line-height:28.45px;height:28.45px;font-size:24.9px;">Neutropenia in primary care BMJ 2014 ;349:g5340</div>
<div class="t" style="left:2766px;top:2064.78px;line-height:28.45px;height:28.45px;font-size:24.9px;">3.</div>
<div class="t" style="left:2839px;top:2064.78px;line-height:28.45px;height:28.45px;font-size:24.9px;">Febrile neutropenia BMJ 2010 ;341 ; c6981</div>
<div class="t" style="left:2300px;width:2000px;text-align:center;top:2150.28px;line-height:28.45px;height:28.45px;font-size:24.9px;">Full list of references , links &amp; resources continued on the main page</div>
<div style="position:absolute;left:1600px;top:18px;width:291px;height:276px;border-radius:50%;background:radial-gradient(closest-side,#f98a8a,#f56060 55%,#ee2a2a 92%,#e82020);border:4px solid #fff;box-shadow:-6px 8px 10px rgba(0,0,0,.35)"></div>
<div class="t" style="left:750px;width:2000px;text-align:center;top:86.70px;line-height:24.6px;height:24.6px;font-size:21.8px;font-weight:bold;color:#111">Neutropenic sepsis</div>
<div class="t" style="left:750px;width:2000px;text-align:center;top:111.30px;line-height:24.6px;height:24.6px;font-size:21.8px;font-weight:bold;color:#111">is a time critical and</div>
<div class="t" style="left:750px;width:2000px;text-align:center;top:135.90px;line-height:24.6px;height:24.6px;font-size:21.8px;font-weight:bold;color:#111">potentially fatal</div>
<div class="t" style="left:750px;width:2000px;text-align:center;top:160.50px;line-height:24.6px;height:24.6px;font-size:21.8px;font-weight:bold;color:#111">complication of</div>
<div class="t" style="left:750px;width:2000px;text-align:center;top:185.10px;line-height:24.6px;height:24.6px;font-size:21.8px;font-weight:bold;color:#111">systemic anti-cancer</div>
<div class="t" style="left:750px;width:2000px;text-align:center;top:209.70px;line-height:24.6px;height:24.6px;font-size:21.8px;font-weight:bold;color:#111">therapy</div>
</body></html>
